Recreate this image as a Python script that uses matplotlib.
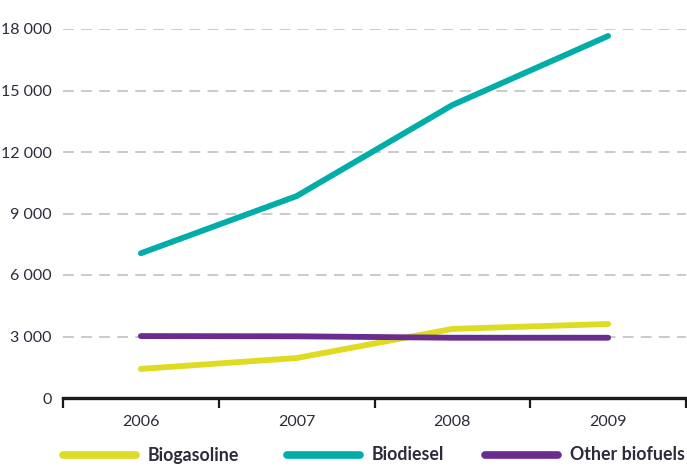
import matplotlib.pyplot as plt
from matplotlib.lines import Line2D
from matplotlib.ticker import FuncFormatter

years = ["2006", "2007", "2008", "2009"]
biogasoline = [1420, 1950, 3370, 3610]
biodiesel = [7060, 9850, 14290, 17660]
other_biofuels = [3020, 3010, 2940, 2940]

series = [
    ("Biogasoline", biogasoline, "#dedb22"),
    ("Biodiesel", biodiesel, "#00ada8"),
    ("Other biofuels", other_biofuels, "#6a2c8f"),
]

plt.rcParams["font.family"] = ["Lato", "DejaVu Sans"]
text_col = "#2b2b3b"

fig = plt.figure(figsize=(6.87, 4.66), dpi=100)
ax = fig.add_axes([63 / 687, 1 - 398 / 466, 623 / 687, 369 / 466])

x = range(len(years))
for name, vals, col in series:
    ax.plot(x, vals, color=col, lw=4.2, solid_capstyle="round", zorder=3)

ax.set_xlim(-0.5, 3.5)
ax.set_ylim(0, 18000)
ax.set_yticks(range(0, 18001, 3000))
ax.yaxis.set_major_formatter(FuncFormatter(lambda v, p: f"{int(v):,}".replace(",", " ")))
ax.set_xticks(list(x))
ax.set_xticklabels(years)
ax.set_xticks([-0.5, 0.5, 1.5, 2.5, 3.5], minor=True)

# dashed grid, no frame except the bottom axis
for v in range(3000, 18001, 3000):
    ax.axhline(v, color="#c6c6c6", lw=1.3, ls=(0, (6, 4)), zorder=1)
for s in ["left", "right", "top"]:
    ax.spines[s].set_visible(False)
ax.spines["bottom"].set_linewidth(2.4)
ax.spines["bottom"].set_color("#1a1a1a")

ax.tick_params(axis="y", length=0, pad=8, labelsize=11.5, labelcolor=text_col)
ax.tick_params(axis="x", which="major", length=0, pad=12, labelsize=11.5, labelcolor=text_col)
ax.tick_params(axis="x", which="minor", length=7, width=1.6, color="#1a1a1a", direction="out")

# legend row under the axis
leg_x = [63, 287, 485]
leg_y = 1 - 455 / 466
for (name, vals, col), lx in zip(series, leg_x):
    fig.add_artist(Line2D([lx / 687, (lx + 73) / 687], [leg_y, leg_y], color=col,
                          lw=5.5, solid_capstyle="round", transform=fig.transFigure))
    fig.text((lx + 85) / 687, leg_y, name, fontsize=12.8, fontweight="bold",
             color=text_col, va="center", ha="left")

fig.savefig("out.png", dpi=100)
